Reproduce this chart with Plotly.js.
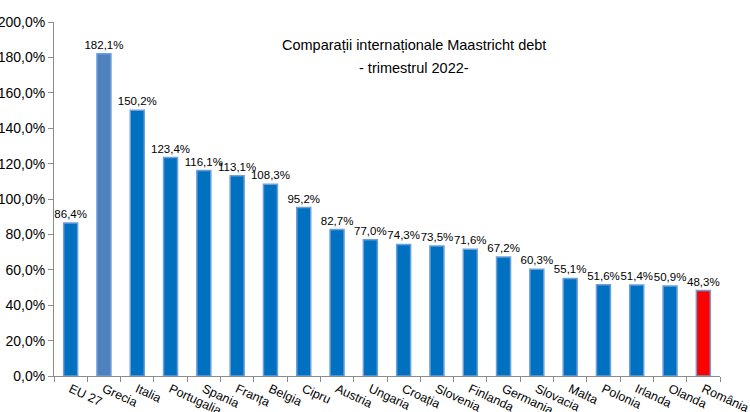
<!DOCTYPE html>
<html>
<head>
<meta charset="utf-8">
<script src="https://cdn.plot.ly/plotly-3.0.1.min.js"></script>
<style>html,body{margin:0;padding:0;background:#fff;}#chart{width:750px;height:412px;}</style>
</head>
<body>
<div id="chart"></div>
<script>
const categories = ["EU 27","Grecia","Italia","Portugalia","Spania","Franța","Belgia","Cipru","Austria","Ungaria","Croația","Slovenia","Finlanda","Germania","Slovacia","Malta","Polonia","Irlanda","Olanda","România"];
const debtValues = [86.4,182.1,150.2,123.4,116.1,113.1,108.3,95.2,82.7,77.0,74.3,73.5,71.6,67.2,60.3,55.1,51.6,51.4,50.9,48.3];
const yTickValues = [0,20,40,60,80,100,120,140,160,180,200];
const titleLines = ["Comparații internaționale Maastricht debt", "- trimestrul 2022-"];

const fmt = v => v.toFixed(1).replace(".", ",") + "%";
const barColors = categories.map(c => c === "Grecia" ? "#4F81BD" : (c === "România" ? "#FF0000" : "#0070C0"));

const trace = {
  type: "bar",
  x: categories,
  y: debtValues,
  width: 0.42,
  marker: {color: barColors, line: {color: "#6C9FDB", width: 1.5}},
  text: debtValues.map(fmt),
  textposition: "outside",
  constraintext: "none",
  cliponaxis: false,
  textfont: {family: "Liberation Sans, Arial, sans-serif", size: 11.5, color: "#000"},
  hoverinfo: "none"
};

const layout = {
  width: 750, height: 412,
  margin: {l: 54, r: 30, t: 22, b: 36},
  paper_bgcolor: "#fff", plot_bgcolor: "#fff",
  showlegend: false,
  font: {family: "Liberation Sans, Arial, sans-serif", color: "#000"},
  xaxis: {
    type: "category",
    tickson: "boundaries",
    ticks: "outside", ticklen: 5, tickcolor: "#8c8c8c",
    showline: true, linecolor: "#8c8c8c", linewidth: 1,
    tickangle: 25,
    tickfont: {size: 12.5, color: "#000"},
    automargin: false,
    fixedrange: true
  },
  yaxis: {
    range: [0, 200],
    tickmode: "array",
    tickvals: yTickValues,
    ticktext: yTickValues.map(fmt),
    ticks: "outside", ticklen: 5, tickcolor: "#8c8c8c",
    showline: true, linecolor: "#8c8c8c", linewidth: 1,
    showgrid: false, zeroline: false,
    tickfont: {size: 14, color: "#000"},
    automargin: false,
    fixedrange: true
  },
  annotations: titleLines.map((t, i) => ({
    xref: "paper", yref: "paper",
    x: 0.54, y: [0.935, 0.870][i], xanchor: "center", yanchor: "middle",
    text: t,
    showarrow: false,
    font: {size: 14.5, color: "#000"}
  }))
};

Plotly.newPlot("chart", [trace], layout, {displayModeBar: false, staticPlot: true});
</script>
</body>
</html>
